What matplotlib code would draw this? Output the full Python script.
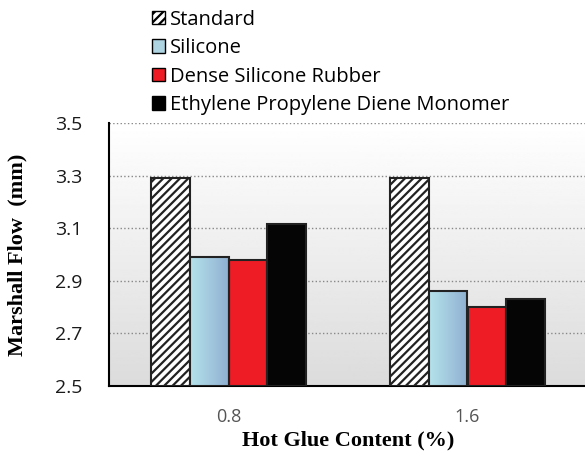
import numpy as np
import matplotlib
matplotlib.use('Agg')
import matplotlib.pyplot as plt
from matplotlib.patches import Patch

categories = ['0.8', '1.6']
series = ['Standard', 'Silicone', 'Dense Silicone Rubber', 'Ethylene Propylene Diene Monomer']
standard = [3.29, 3.29]
silicone = [2.99, 2.862]
dense = [2.98, 2.80]
epdm = [3.115, 2.832]
yticks = [2.5, 2.7, 2.9, 3.1, 3.3, 3.5]

plt.rcParams['hatch.linewidth'] = 1.6
fig = plt.figure(figsize=(5.85, 4.58), dpi=100)
ax = fig.add_axes([109/585, 1-386/458, 478/585, 263/458])

x = np.arange(len(categories))
w = 0.1625
offs = [-1.5*w, -0.5*w, 0.5*w, 1.5*w]

# background gradient white -> light grey
bg = np.linspace(0.86, 1.0, 256).reshape(-1, 1)
ax.imshow(bg, cmap='gray', vmin=0, vmax=1, aspect='auto', extent=[-0.5, 1.5, 2.5, 3.5],
          origin='lower', zorder=0)

ax.bar(x+offs[0], [v-2.5 for v in standard], w, bottom=2.5, color='white', edgecolor='#222222',
       hatch='////', linewidth=1.5, zorder=3)
sil = ax.bar(x+offs[1], [v-2.5 for v in silicone], w, bottom=2.5, color='none', edgecolor='#222222',
             linewidth=1.5, zorder=4)
for b in sil:
    bx, by = b.get_x(), b.get_y()
    im = ax.imshow(np.linspace(0, 1, 64).reshape(1, -1), aspect='auto',
                   cmap=matplotlib.colors.LinearSegmentedColormap.from_list('s', ['#b5e2ea', '#8fb0d2']),
                   extent=[bx, bx+b.get_width(), by, by+b.get_height()], zorder=3)
    im.set_clip_path(b)
ax.bar(x+offs[2], [v-2.5 for v in dense], w, bottom=2.5, color='#ee1c24', edgecolor='#222222',
       linewidth=1.5, zorder=3)
ax.bar(x+offs[3], [v-2.5 for v in epdm], w, bottom=2.5, color='#050505', edgecolor='#222222',
       linewidth=1.5, zorder=3)

ax.set_xlim(-0.5, 1.5)
ax.set_ylim(2.5, 3.5)
ax.set_yticks(yticks)
ax.set_yticklabels(['%.1f' % t for t in yticks], fontsize=14, family='Open Sans', color='#1a1a1a')
ax.set_xticks(x)
ax.set_xticklabels(categories, fontsize=13, family='Open Sans', color='#555555')
ax.tick_params(axis='y', length=0, pad=19)
ax.tick_params(axis='x', length=0, pad=16)
ax.grid(axis='y', linestyle=':', color='#888888', linewidth=1)
ax.set_axisbelow(True)
for s in ['top', 'right']:
    ax.spines[s].set_visible(False)
ax.spines['left'].set_linewidth(1.5)
ax.spines['bottom'].set_linewidth(1.5)

ax.set_ylabel('Marshall Flow  (mm)', fontsize=16, fontweight='bold', family='Liberation Serif', labelpad=20)
ax.set_xlabel('Hot Glue Content (%)', fontsize=16, fontweight='bold', family='Liberation Serif', labelpad=3)

handles = [Patch(facecolor='white', edgecolor='black', hatch='////'),
           Patch(facecolor='#aed4e2', edgecolor='black'),
           Patch(facecolor='#ee1c24', edgecolor='black'),
           Patch(facecolor='black', edgecolor='black')]
fig.legend(handles, series, loc='upper left', bbox_to_anchor=(140/585, 1.005), frameon=False,
           prop={'family': 'Open Sans', 'size': 14.5}, handlelength=0.65, handleheight=0.65,
           handletextpad=0.25, labelspacing=0.42, borderaxespad=0.2)

fig.savefig('out.png', dpi=100)
